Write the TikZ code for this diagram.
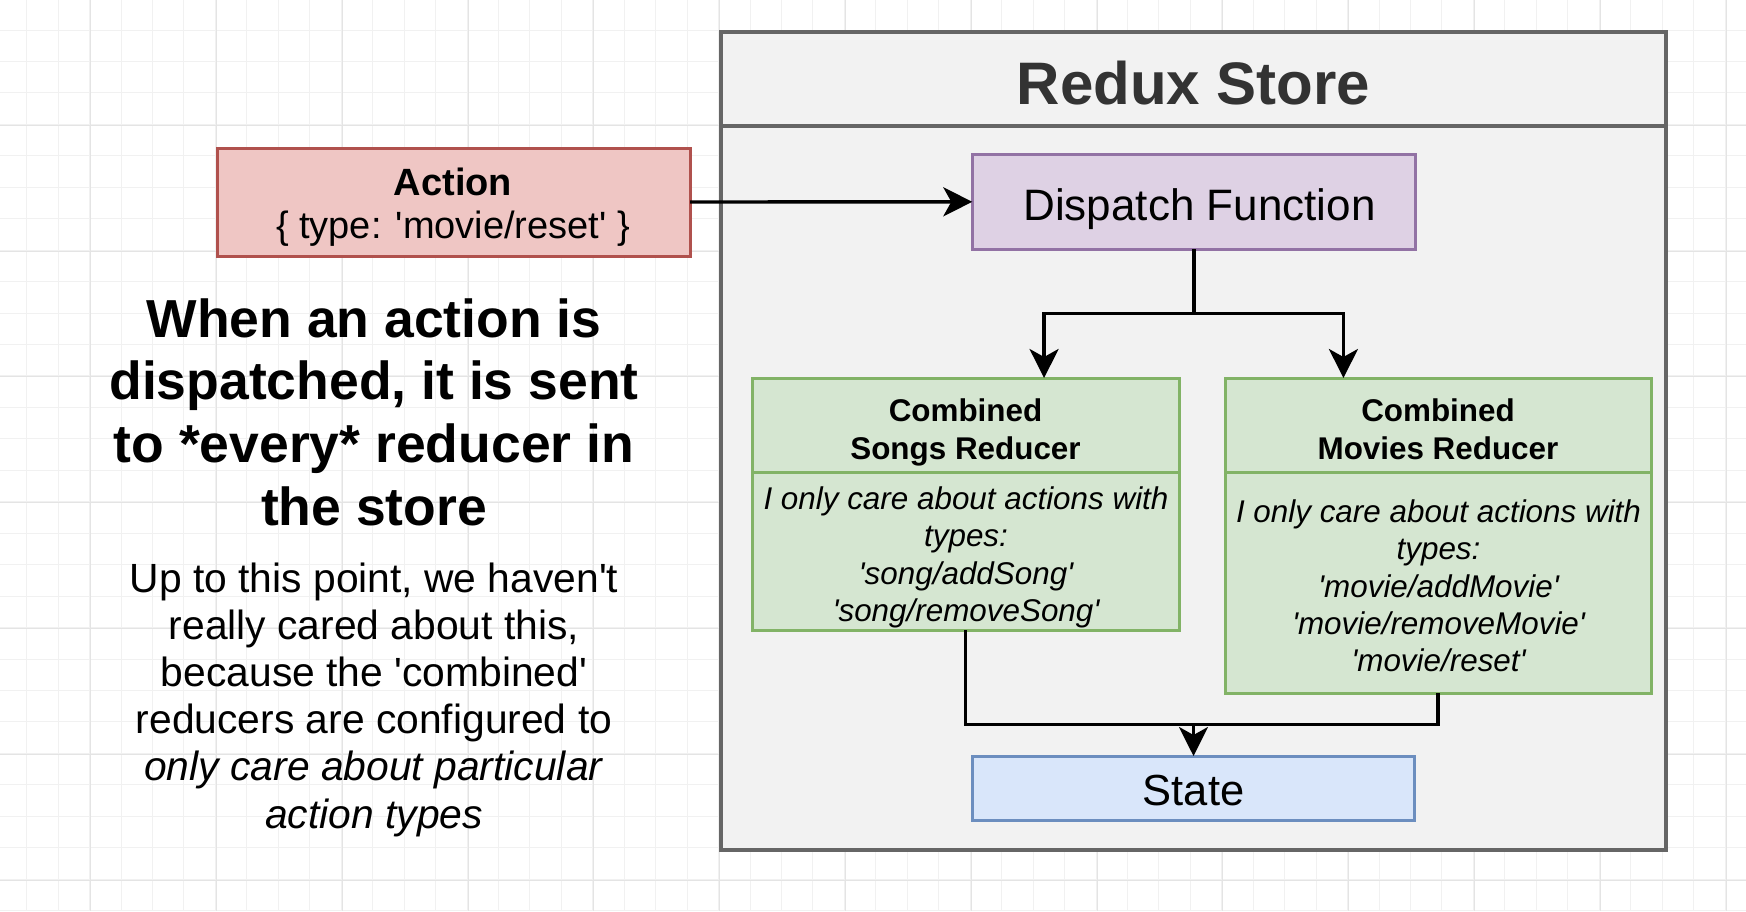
\documentclass[tikz,border=0pt]{standalone}
\usepackage{fontspec}
\setmainfont{Liberation Sans}
\usetikzlibrary{arrows.meta,calc}
\definecolor{gridminor}{HTML}{F1F1F1}
\definecolor{gridmajor}{HTML}{E4E4E4}
\definecolor{storefill}{HTML}{F2F2F2}
\definecolor{storeline}{HTML}{666666}
\definecolor{storetext}{HTML}{333333}
\definecolor{redfill}{HTML}{EFC6C4}
\definecolor{redline}{HTML}{B0514D}
\definecolor{purplefill}{HTML}{DED1E4}
\definecolor{purpleline}{HTML}{9272A4}
\definecolor{greenfill}{HTML}{D5E6D1}
\definecolor{greenline}{HTML}{82B366}
\definecolor{bluefill}{HTML}{D9E6FA}
\definecolor{blueline}{HTML}{6C8EBF}
\newcommand{\sq}{\textquotesingle}
\tikzset{
  boxbase/.style={draw, line width=3pt, inner sep=0pt, outer sep=0pt},
  storebox/.style={boxbase, line width=3.2pt, draw=storeline, fill=storefill},
  redbox/.style={boxbase, draw=redline, fill=redfill},
  purplebox/.style={boxbase, draw=purpleline, fill=purplefill},
  greenbox/.style={boxbase, draw=greenline, fill=greenfill},
  bluebox/.style={boxbase, draw=blueline, fill=bluefill},
  lbl/.style={inner sep=0pt, outer sep=0pt, anchor=base, align=center},
  conn/.style={line width=3.4pt, draw=black},
  arr/.style={conn, -{Stealth[length=29pt, width=29pt, inset=8pt]}},
}
\begin{document}
\begin{tikzpicture}[x=1pt, y=-1pt]
\useasboundingbox (0,0) rectangle (1746,911);
\fill[white] (0,0) rectangle (1746,911);
% grid
\foreach \i in {0,...,54} {
  \pgfmathsetmacro\xx{26.7+31.45*\i}
  \draw[gridminor, line width=1pt] (\xx,0) -- (\xx,911);
}
\foreach \i in {0,...,28} {
  \pgfmathsetmacro\yy{30+31.45*\i}
  \draw[gridminor, line width=1pt] (0,\yy) -- (1746,\yy);
}
\foreach \i in {0,...,13} {
  \pgfmathsetmacro\xx{90.7+125.8*\i}
  \draw[gridmajor, line width=1pt] (\xx,0) -- (\xx,911);
}
\foreach \i in {0,...,6} {
  \pgfmathsetmacro\yy{125.3+125.8*\i}
  \draw[gridmajor, line width=1pt] (0,\yy) -- (1746,\yy);
}

% Redux store container
\node[storebox, minimum width=945pt, minimum height=818pt] (store) at (1193.5,441) {};
\node[storebox, minimum width=945pt, minimum height=94pt] (storehead) at (1193.5,79) {};
\node[lbl, font=\fontsize{60}{66}\selectfont\bfseries, text=storetext] (storetitle) at (1193.5,104) {Redux Store};

% Action
\node[redbox, minimum width=473pt, minimum height=108pt] (action) at (453.5,202) {};
\node[lbl, font=\fontsize{38}{43}\selectfont] (actiontext) at (453,238) {\textbf{Action}\\\{ type: \sq movie/reset\sq\ \}};

% Dispatch
\node[purplebox, minimum width=443pt, minimum height=95pt] (dispatch) at (1193.8,201.8) {};
\node[lbl, font=\fontsize{44}{50}\selectfont] (dispatchtext) at (1199.5,220) {Dispatch Function};

% Songs reducer
\node[greenbox, minimum width=427pt, minimum height=94pt] (songshead) at (965.5,425) {};
\node[greenbox, minimum width=427pt, minimum height=158pt] (songsbody) at (965.5,551) {};
\node[lbl, font=\fontsize{31.4}{37.3}\selectfont\bfseries] (songstitle) at (965.5,459) {Combined\\Songs Reducer};
\node[lbl, font=\fontsize{31.4}{37.5}\selectfont\itshape] (songstext) at (966,621.5) {I only care about actions with\\types:\\\sq song/addSong\sq\\\sq song/removeSong\sq};

% Movies reducer
\node[greenbox, minimum width=426pt, minimum height=94pt] (movieshead) at (1438,425) {};
\node[greenbox, minimum width=426pt, minimum height=221pt] (moviesbody) at (1438,582.5) {};
\node[lbl, font=\fontsize{31.4}{37.3}\selectfont\bfseries] (moviestitle) at (1438,459) {Combined\\Movies Reducer};
\node[lbl, font=\fontsize{31.4}{37.35}\selectfont\itshape] (moviestext) at (1438.5,671.7) {I only care about actions with\\types:\\\sq movie/addMovie\sq\\\sq movie/removeMovie\sq\\\sq movie/reset\sq};

% State
\node[bluebox, minimum width=442pt, minimum height=64pt] (state) at (1193.5,788) {};
\node[lbl, font=\fontsize{43.5}{50}\selectfont] (statetext) at (1193.5,805) {State};

% Left texts
\node[lbl, font=\fontsize{53.5}{62.7}\selectfont\bfseries] (headline) at (374,525.1) {When an action is\\dispatched, it is sent\\to *every* reducer in\\the store};
\node[lbl, font=\fontsize{40.8}{47.2}\selectfont] (para) at (374,828) {Up to this point, we haven\sq t\\really cared about this,\\because the \sq combined\sq\\reducers are configured to\\\textit{only care about particular}\\\textit{action types}};

% connectors
\coordinate (split) at (1193.8,313.3);
\coordinate (merge) at (1193.5,724.3);
\draw[arr] (action.east) -- (dispatch.west);
\draw[conn] (dispatch.south) -- (split);
\draw[arr] (split) -| ($(songshead.north west)!0.684!(songshead.north east)$);
\draw[arr] (split) -| ($(movieshead.north west)!0.278!(movieshead.north east)$);
\draw[conn] (songsbody.south) |- (merge) -| (moviesbody.south);
\draw[arr] (merge) -- (state.north);
\end{tikzpicture}
\end{document}
